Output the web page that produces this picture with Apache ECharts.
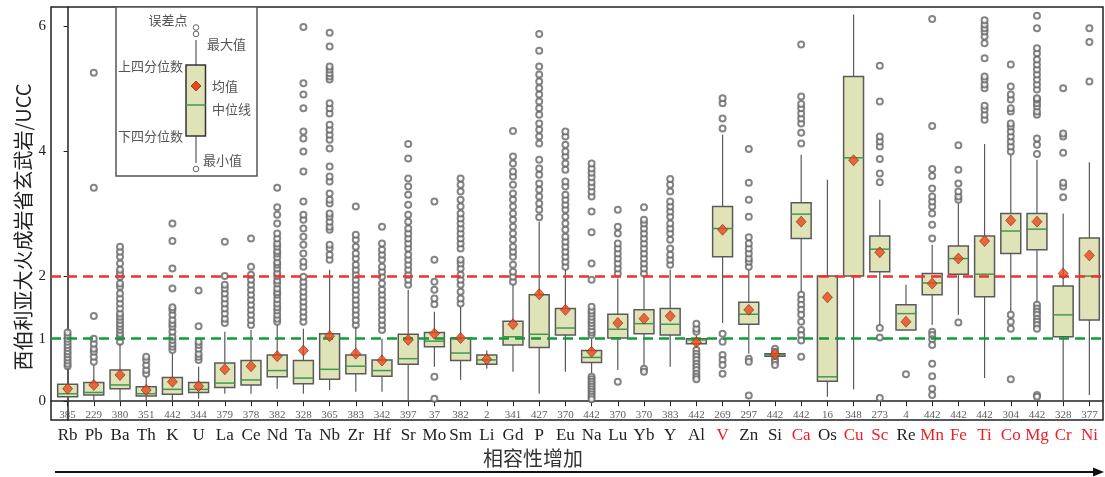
<!DOCTYPE html>
<html>
<head>
<meta charset="utf-8">
<script src="https://cdn.jsdelivr.net/npm/echarts@6/dist/echarts.min.js"></script>
<style>
  html, body { margin: 0; padding: 0; background: #fff; }
  #chart { width: 1105px; height: 477px; }
</style>
</head>
<body>
<div id="chart"></div>
<script>
const elements = ['Rb', 'Pb', 'Ba', 'Th', 'K', 'U', 'La', 'Ce', 'Nd', 'Ta', 'Nb', 'Zr', 'Hf', 'Sr', 'Mo', 'Sm', 'Li', 'Gd', 'P', 'Eu',
  'Na', 'Lu', 'Yb', 'Y', 'Al', 'V', 'Zn', 'Si', 'Ca', 'Os', 'Cu', 'Sc', 'Re', 'Mn', 'Fe', 'Ti', 'Co', 'Mg', 'Cr', 'Ni']
const redElements = ['V', 'Ca', 'Cu', 'Sc', 'Mn', 'Fe', 'Ti', 'Co', 'Mg', 'Cr', 'Ni']
const counts = [385, 229, 380, 351, 442, 344, 379, 378, 382, 328, 365, 383, 342, 397, 37, 382, 2, 341, 427, 370,
  442, 370, 370, 383, 442, 269, 297, 442, 442, 16, 348, 273, 4, 442, 442, 442, 304, 442, 328, 377]

const whiskerLow = [0.0, 0.02, 0.02, 0.0, 0.02, 0.04, 0.12, 0.12, 0.20, 0.12, 0.18, 0.15, 0.15, 0.0, 0.55, 0.34, 0.52, 0.47, 0.12, 0.47,
  0.45, 0.50, 0.58, 0.55, 0.87, 1.25, 0.76, 0.70, 1.75, 0.07, 0.19, 1.22, 1.14, 1.22, 1.38, 0.37, 1.43, 1.59, 0.02, 0.10]
const q1 = [0.07, 0.10, 0.20, 0.085, 0.11, 0.14, 0.22, 0.26, 0.39, 0.28, 0.35, 0.44, 0.40, 0.59, 0.87, 0.65, 0.59, 0.90, 0.86, 1.06,
  0.62, 1.01, 1.08, 1.06, 0.92, 2.31, 1.23, 0.72, 2.60, 0.32, 2.00, 2.07, 1.14, 1.70, 2.03, 1.67, 2.36, 2.42, 1.03, 1.30]
const medians = [0.12, 0.14, 0.26, 0.12, 0.19, 0.19, 0.29, 0.34, 0.49, 0.37, 0.51, 0.56, 0.49, 0.68, 0.96, 0.77, 0.66, 1.03, 1.07, 1.17,
  0.70, 1.15, 1.24, 1.23, 0.98, 2.76, 1.39, 0.74, 2.99, 0.39, 3.89, 2.43, 1.40, 1.89, 2.28, 2.03, 2.72, 2.75, 1.38, 2.00]
const q3 = [0.27, 0.30, 0.50, 0.23, 0.38, 0.30, 0.61, 0.65, 0.74, 0.65, 1.08, 0.74, 0.66, 1.07, 1.10, 1.01, 0.74, 1.28, 1.70, 1.48,
  0.81, 1.39, 1.46, 1.48, 1.00, 3.11, 1.58, 0.76, 3.17, 2.00, 5.19, 2.64, 1.54, 2.04, 2.48, 2.64, 3.00, 3.00, 1.84, 2.61]
const whiskerHigh = [0.52, 0.58, 0.92, 0.40, 0.76, 0.55, 1.11, 1.14, 1.22, 1.16, 2.10, 1.19, 1.00, 1.78, 1.43, 1.51, 0.81, 1.86, 2.87, 2.10,
  1.00, 1.96, 1.99, 2.10, 1.05, 4.26, 2.10, 0.78, 3.94, 3.54, 6.18, 3.22, 1.86, 2.50, 3.16, 4.11, 3.94, 3.86, 3.00, 3.82]
const means = [0.20, 0.26, 0.42, 0.18, 0.31, 0.24, 0.51, 0.56, 0.72, 0.81, 1.04, 0.76, 0.65, 0.98, 1.08, 1.01, 0.67, 1.23, 1.71, 1.46,
  0.79, 1.25, 1.32, 1.36, 0.94, 2.74, 1.46, 0.75, 2.87, 1.66, 3.85, 2.38, 1.27, 1.88, 2.28, 2.56, 2.89, 2.87, 2.04, 2.33]

const outliers = [
  [0.56, 0.6, 0.65, 0.7, 0.75, 0.8, 0.85, 0.9, 0.95, 1.0, 1.05, 1.1],
  [0.63, 0.71, 0.79, 0.84, 0.92, 1.0, 1.36, 3.41, 5.25],
  [0.95, 1.03, 1.08, 1.14, 1.19, 1.24, 1.3, 1.35, 1.4, 1.48, 1.56, 1.64, 1.72, 1.83, 1.88, 1.99, 2.04, 2.1, 2.2, 2.31, 2.39, 2.47],
  [0.44, 0.5, 0.58, 0.66, 0.71],
  [0.82, 0.87, 0.92, 0.98, 1.03, 1.11, 1.19, 1.24, 1.3, 1.38, 1.46, 1.5, 1.8, 2.12, 2.56, 2.84],
  [0.66, 0.71, 0.76, 0.84, 0.9, 0.95, 1.2, 1.77],
  [1.25, 1.32, 1.4, 1.48, 1.56, 1.64, 1.72, 1.8, 1.86, 2.0, 2.55],
  [1.22, 1.3, 1.38, 1.46, 1.54, 1.62, 1.7, 1.78, 1.86, 1.94, 2.02, 2.15, 2.6],
  [1.27, 1.32, 1.38, 1.45, 1.5, 1.56, 1.63, 1.7, 1.74, 1.8, 1.88, 1.93, 2.0, 2.05, 2.12, 2.18, 2.22, 2.3, 2.36, 2.4, 2.47, 2.52, 2.6, 2.68, 2.84, 2.98, 3.1, 3.41],
  [1.27, 1.35, 1.43, 1.51, 1.59, 1.67, 1.75, 1.83, 1.91, 1.99, 2.15, 2.23, 2.36, 2.5, 2.63, 2.76, 2.9, 2.98, 3.19, 3.67, 3.99, 4.2, 4.31, 4.68, 4.9, 5.08, 5.98],
  [2.26, 2.34, 2.44, 2.5, 2.74, 2.79, 2.87, 2.95, 3.0, 3.16, 3.22, 3.32, 3.51, 3.59, 3.75, 4.04, 4.18, 4.26, 4.34, 4.42, 4.6, 4.68, 4.76, 5.14, 5.19, 5.24, 5.3, 5.35, 5.67, 5.89],
  [1.22, 1.3, 1.38, 1.46, 1.54, 1.62, 1.7, 1.78, 1.86, 1.94, 2.02, 2.1, 2.18, 2.28, 2.36, 2.47, 2.58, 2.66, 3.11],
  [1.14, 1.22, 1.3, 1.38, 1.46, 1.54, 1.62, 1.7, 1.78, 1.88, 1.99, 2.07, 2.15, 2.26, 2.34, 2.42, 2.52, 2.79],
  [1.86, 1.94, 2.02, 2.1, 2.18, 2.26, 2.34, 2.44, 2.52, 2.6, 2.68, 2.76, 2.87, 2.98, 3.14, 3.3, 3.43, 3.56, 3.88, 4.11],
  [1.55, 1.64, 1.78, 1.91, 2.26, 3.19, 0.39, 0.04],
  [1.56, 1.64, 1.75, 1.86, 1.94, 2.02, 2.12, 2.2, 2.26, 2.44, 2.52, 2.6, 2.68, 2.76, 2.84, 2.92, 3.0, 3.11, 3.22, 3.35, 3.46, 3.56],
  [],
  [1.91, 1.99, 2.07, 2.18, 2.31, 2.39, 2.47, 2.58, 2.68, 2.79, 2.9, 3.0, 3.11, 3.22, 3.32, 3.46, 3.59, 3.67, 3.8, 3.91, 4.32],
  [2.94, 3.06, 3.16, 3.27, 3.38, 3.48, 3.62, 3.72, 3.86, 4.12, 4.23, 4.34, 4.44, 4.58, 4.68, 4.79, 4.9, 5.0, 5.11, 5.22, 5.35, 5.6, 5.87],
  [2.15, 2.23, 2.31, 2.39, 2.47, 2.55, 2.63, 2.74, 2.84, 2.95, 3.06, 3.14, 3.22, 3.3, 3.43, 3.51, 3.7, 3.8, 3.91, 3.99, 4.1, 4.23, 4.31],
  [1.06, 1.1, 1.14, 1.2, 1.25, 1.3, 1.35, 1.4, 1.45, 1.51, 1.94, 2.2, 2.7, 3.03, 3.27, 3.35, 3.43, 3.5, 3.58, 3.65, 3.72, 3.8,
    0.39, 0.35, 0.31, 0.27, 0.23, 0.19, 0.15, 0.11, 0.07, 0.03],
  [2.04, 2.12, 2.2, 2.28, 2.36, 2.44, 2.52, 2.68, 2.79, 3.06, 0.31],
  [2.04, 2.12, 2.2, 2.28, 2.36, 2.44, 2.52, 2.6, 2.68, 2.76, 2.84, 2.9, 3.1, 0.52, 0.47],
  [2.18, 2.26, 2.34, 2.44, 2.58, 2.68, 2.76, 2.84, 2.95, 3.03, 3.11, 3.19, 3.35, 3.46, 3.55],
  [1.11, 1.16, 1.24, 0.82, 0.76, 0.71, 0.66, 0.6, 0.55, 0.5, 0.44, 0.39, 0.35],
  [4.36, 4.52, 4.76, 4.84, 1.08, 0.95, 0.74, 0.66, 0.58, 0.44],
  [2.15, 2.23, 2.28, 2.36, 2.44, 2.52, 2.62, 2.95, 3.22, 3.49, 4.03, 0.68, 0.63, 0.09],
  [0.84, 0.79, 0.68, 0.63, 0.58],
  [4.12, 4.29, 4.44, 4.52, 4.6, 4.68, 4.75, 4.87, 5.7, 1.7, 1.62, 1.54, 1.46, 1.38, 1.27, 1.14, 1.06, 0.97, 0.71],
  [],
  [],
  [3.5, 3.64, 3.87, 4.07, 4.15, 4.23, 4.79, 5.36, 1.17, 1.02, 0.05],
  [0.43],
  [2.6, 2.82, 3.0, 3.11, 3.19, 3.27, 3.4, 3.6, 3.71, 4.4, 6.11, 1.11, 1.06, 0.99, 0.9, 0.6, 0.4, 0.2, 0.1],
  [3.22, 3.27, 3.35, 3.48, 3.7, 4.09, 1.26],
  [4.5, 4.58, 4.66, 4.72, 5.0, 5.06, 5.14, 5.19, 5.48, 5.72, 5.83, 5.91, 5.96, 6.02, 6.09],
  [3.99, 4.07, 4.15, 4.23, 4.31, 4.39, 4.44, 4.63, 4.68, 4.82, 4.9, 5.03, 5.38, 1.38, 1.27, 1.16, 0.35],
  [3.95, 4.1, 4.2, 4.58, 4.63, 4.71, 4.76, 4.82, 4.84, 4.98, 5.06, 5.14, 5.22, 5.3, 5.38, 5.46, 5.56, 5.64, 5.96, 6.16,
    1.54, 1.48, 1.43, 1.38, 1.32, 1.27, 1.22, 1.16, 0.1, 0.07],
  [3.26, 3.43, 3.49, 3.97, 4.23, 4.28, 5.0],
  [5.11, 5.74, 5.96],
]

const yTicks = [0, 1, 2, 4, 6]
const refLines = [2, 1]

const SERIF = '"Liberation Serif", "Times New Roman", serif'
const CJK = '"Noto Sans CJK SC", sans-serif'
const COLORS = {
  boxFill: '#e0e2b8',
  edge: '#5a5a5a',
  median: '#3e9a4e',
  mean: '#e8481c',
  meanEdge: '#8c2a10',
  outlier: '#666',
  red: '#ee1c25',
  text: '#222',
  legendText: '#555',
}

const idx = elements.map((_, i) => i)
const boxData = idx.map((i) => [i, whiskerLow[i], q1[i], medians[i], q3[i], whiskerHigh[i]])
const meanData = idx.map((i) => [i, means[i]])
const outlierData = []
outliers.forEach((arr, i) => arr.forEach((v) => outlierData.push([i, v])))

function renderBox(params, api) {
  const x = api.value(0)
  const half = api.size([1, 0])[0] * 0.38
  const lo = api.coord([x, api.value(1)])
  const b = api.coord([x, api.value(2)])
  const m = api.coord([x, api.value(3)])
  const t = api.coord([x, api.value(4)])
  const hi = api.coord([x, api.value(5)])
  const edge = { stroke: COLORS.edge, lineWidth: 1.2 }
  return {
    type: 'group',
    children: [
      { type: 'line', shape: { x1: lo[0], y1: lo[1], x2: b[0], y2: b[1] }, style: edge },
      { type: 'line', shape: { x1: t[0], y1: t[1], x2: hi[0], y2: hi[1] }, style: edge },
      {
        type: 'rect',
        shape: { x: b[0] - half, y: t[1], width: half * 2, height: Math.max(b[1] - t[1], 1.5) },
        style: { fill: COLORS.boxFill, stroke: COLORS.edge, lineWidth: 1.5 },
      },
      {
        type: 'line',
        shape: { x1: b[0] - half, y1: m[1], x2: b[0] + half, y2: m[1] },
        style: { stroke: COLORS.median, lineWidth: 1.5 },
      },
    ],
  }
}

// legend inset (key for box elements)
const LX = 196
const legendGraphic = {
  type: 'group',
  children: [
    { type: 'rect', shape: { x: 116, y: 7, width: 141, height: 169 }, style: { fill: '#fff', stroke: '#555', lineWidth: 1.5 } },
    { type: 'line', shape: { x1: LX, y1: 40, x2: LX, y2: 65 }, style: { stroke: COLORS.edge, lineWidth: 1.2 } },
    { type: 'line', shape: { x1: LX, y1: 136, x2: LX, y2: 163 }, style: { stroke: COLORS.edge, lineWidth: 1.2 } },
    { type: 'rect', shape: { x: 186, y: 65, width: 19.5, height: 71 }, style: { fill: COLORS.boxFill, stroke: '#333', lineWidth: 1.5 } },
    { type: 'line', shape: { x1: 186, y1: 105, x2: 205.5, y2: 105 }, style: { stroke: COLORS.median, lineWidth: 1.5 } },
    { type: 'polygon', shape: { points: [[LX, 81], [LX + 5, 86], [LX, 91], [LX - 5, 86]] }, style: { fill: COLORS.mean, stroke: COLORS.meanEdge, lineWidth: 0.8 } },
    { type: 'circle', shape: { cx: LX, cy: 27.5, r: 2.8 }, style: { fill: '#fff', stroke: COLORS.outlier, lineWidth: 1 } },
    { type: 'circle', shape: { cx: LX, cy: 34, r: 2.8 }, style: { fill: '#fff', stroke: COLORS.outlier, lineWidth: 1 } },
    { type: 'circle', shape: { cx: LX, cy: 169, r: 2.8 }, style: { fill: '#fff', stroke: COLORS.outlier, lineWidth: 1 } },
    ...[
      ['误差点', 168, 20, 'center'],
      ['最大值', 207, 44, 'left'],
      ['上四分位数', 183, 66, 'right'],
      ['均值', 212, 86, 'left'],
      ['中位线', 212, 109, 'left'],
      ['下四分位数', 183, 136, 'right'],
      ['最小值', 203, 160, 'left'],
    ].map(([text, x, y, align]) => ({
      type: 'text',
      x, y,
      style: { text, font: `13px ${CJK}`, fill: COLORS.legendText, align, verticalAlign: 'middle' },
    })),
  ],
}

const chart = echarts.init(document.getElementById('chart'))
chart.setOption({
  animation: false,
  grid: { left: 51, right: 2, top: 7, bottom: 57, show: true, borderColor: '#222', borderWidth: 1.5 },
  xAxis: {
    type: 'value',
    min: -0.634,
    max: 39.52,
    splitLine: { show: false },
    axisLine: { show: true, lineStyle: { color: '#222', width: 1.5 } },
    axisTick: { show: true, customValues: idx, length: 5, lineStyle: { color: '#222' } },
    axisLabel: {
      customValues: idx,
      margin: 7,
      formatter: (v) => {
        const name = elements[Math.round(v)]
        return redElements.includes(name) ? `{r|${name}}` : `{k|${name}}`
      },
      rich: {
        k: { color: COLORS.text, fontFamily: SERIF, fontSize: 17 },
        r: { color: COLORS.red, fontFamily: SERIF, fontSize: 17 },
      },
    },
  },
  yAxis: {
    type: 'value',
    min: -0.3,
    max: 6.3,
    splitLine: { show: false },
    axisLine: { show: true, lineStyle: { color: '#222', width: 1.5 } },
    axisTick: { show: true, customValues: yTicks, length: 4, lineStyle: { color: '#222' } },
    axisLabel: { customValues: yTicks, color: COLORS.text, fontFamily: SERIF, fontSize: 15, margin: 5 },
  },
  graphic: [
    legendGraphic,
    {
      type: 'text',
      x: 23, y: 227,
      rotation: Math.PI / 2,
      style: { text: '西伯利亚大火成岩省玄武岩/UCC', font: `20px ${CJK}`, fill: COLORS.text, align: 'center', verticalAlign: 'middle' },
    },
    {
      type: 'text',
      x: 533, y: 458,
      style: { text: '相容性增加', font: `20px ${CJK}`, fill: '#333', align: 'center', verticalAlign: 'middle' },
    },
    { type: 'line', shape: { x1: 55, y1: 472, x2: 1095, y2: 472 }, style: { stroke: '#111', lineWidth: 2 } },
    { type: 'polygon', shape: { points: [[1093, 467.5], [1104, 472], [1093, 476.5]] }, style: { fill: '#111' } },
  ],
  series: [
    {
      name: 'outliers',
      type: 'scatter',
      data: outlierData,
      symbol: 'emptyCircle',
      symbolSize: 6,
      itemStyle: { color: COLORS.outlier, borderColor: COLORS.outlier, borderWidth: 1 },
      z: 2,
    },
    {
      name: 'boxes',
      type: 'custom',
      data: boxData,
      renderItem: renderBox,
      encode: { x: 0, y: [1, 2, 3, 4, 5] },
      z: 3,
    },
    {
      name: 'ref',
      type: 'line',
      data: [],
      z: 4,
      markLine: {
        silent: true,
        symbol: 'none',
        label: { show: false },
        data: refLines.map((v, i) => ({
          yAxis: v,
          lineStyle: { color: i === 0 ? '#f2302f' : '#129a3a', width: 2.5, type: [10, 6] },
        })),
      },
    },
    {
      name: 'means',
      type: 'scatter',
      data: meanData,
      symbol: 'diamond',
      symbolSize: [10, 11],
      itemStyle: { color: COLORS.mean, borderColor: COLORS.meanEdge, borderWidth: 0.8 },
      z: 5,
    },
    {
      name: 'counts',
      type: 'scatter',
      data: idx.map((i) => [i, -0.22]),
      symbolSize: 0,
      label: {
        show: true,
        position: 'inside',
        formatter: (p) => String(counts[p.dataIndex]),
        fontFamily: SERIF,
        fontSize: 11,
        color: '#333',
      },
      z: 5,
    },
  ],
})
</script>
</body>
</html>
